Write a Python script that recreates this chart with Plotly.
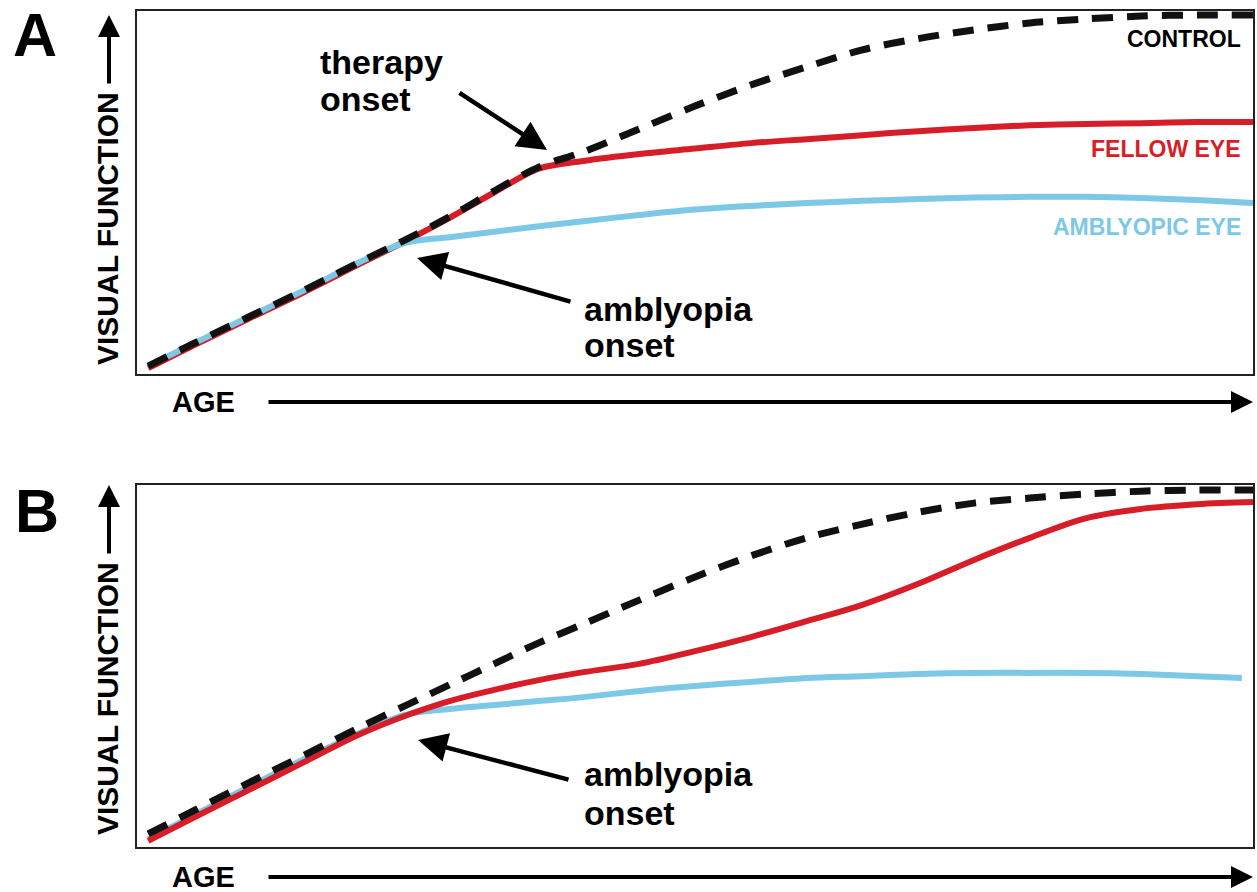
import plotly.graph_objects as go
from plotly.subplots import make_subplots

W, H = 1257, 892

# age grid (arbitrary units, 0-100)
age = [1, 5, 10, 15, 20, 24, 28, 32, 36, 40, 45, 50, 55, 60, 65, 70, 75, 80, 85, 90, 95, 100]
age_b_amb = [1, 5, 10, 15, 20, 24, 28, 32, 36, 40, 45, 50, 55, 60, 65, 70, 75, 80, 85, 90, 95, 99]

# panel A: visual function (arbitrary units, 0-100)
a_control = [2.2, 8.3, 15.7, 23.1, 30.9, 36.9, 43.3, 50.4, 57.0, 61.2, 67.5, 73.8, 79.6, 84.6,
             89.3, 92.4, 94.8, 96.7, 97.8, 98.6, 98.9, 98.9]
a_fellow = [1.6, 7.8, 15.2, 22.6, 30.4, 36.5, 43.0, 50.0, 56.6, 58.7, 60.6, 62.1, 63.6, 64.7,
            65.8, 66.9, 67.8, 68.5, 68.9, 69.1, 69.4, 69.4]
a_amblyopic = [2.2, 8.3, 15.7, 23.1, 30.9, 36.1, 37.7, 39.2, 40.7, 42.1, 43.8, 45.3, 46.3, 47.1,
               47.7, 48.2, 48.6, 48.8, 48.8, 48.5, 47.9, 47.1]

# panel B
b_control = [3.6, 9.9, 17.7, 25.4, 33.1, 39.0, 44.8, 50.6, 56.4, 61.6, 68.2, 74.6, 80.4, 85.4,
             89.2, 92.5, 95.0, 96.4, 97.5, 98.3, 98.6, 98.6]
b_fellow = [1.7, 8.0, 15.7, 23.5, 31.2, 36.2, 40.3, 43.4, 46.1, 48.3, 50.6, 54.1, 58.0, 62.4,
            66.9, 72.7, 79.3, 85.4, 90.8, 93.4, 94.7, 95.3]
b_amblyopic = [2.2, 8.6, 16.6, 24.3, 31.5, 36.5, 38.1, 39.2, 40.3, 41.4, 43.1, 44.5, 45.6, 46.7,
               47.2, 47.8, 48.1, 48.1, 48.1, 47.8, 47.2, 46.7]

RED = "#D71E28"
BLUE = "#7CC8E6"
FONT = "Liberation Sans, Arial, sans-serif"


def px_x(p):
    return p / W


def px_y(p):
    return 1 - p / H


fig = make_subplots(rows=2, cols=1)

fig.add_trace(go.Scatter(x=age, y=a_fellow, mode="lines",
                         line=dict(color=RED, width=6, shape="spline", smoothing=0.9)), row=1, col=1)
fig.add_trace(go.Scatter(x=age, y=a_amblyopic, mode="lines",
                         line=dict(color=BLUE, width=6, shape="spline", smoothing=0.9)), row=1, col=1)
fig.add_trace(go.Scatter(x=age, y=a_control, mode="lines",
                         line=dict(color="#111111", width=7, dash="21px,14px",
                                   shape="spline", smoothing=0.9)), row=1, col=1)

fig.add_trace(go.Scatter(x=age_b_amb, y=b_amblyopic, mode="lines",
                         line=dict(color=BLUE, width=6, shape="spline", smoothing=0.9)), row=2, col=1)
fig.add_trace(go.Scatter(x=age, y=b_fellow, mode="lines",
                         line=dict(color=RED, width=6, shape="spline", smoothing=1.0)), row=2, col=1)
fig.add_trace(go.Scatter(x=age, y=b_control, mode="lines",
                         line=dict(color="#111111", width=7, dash="21px,14px",
                                   shape="spline", smoothing=0.9)), row=2, col=1)

axis_style = dict(showticklabels=False, showgrid=False, zeroline=False, ticks="",
                  showline=True, mirror=True, linecolor="#222222", linewidth=2)
xdom = [px_x(137), px_x(1253)]
fig.update_xaxes(range=[0, 100], domain=xdom, **axis_style)
fig.update_yaxes(range=[0, 100], **axis_style)
fig.update_layout(
    yaxis=dict(domain=[px_y(374), px_y(11)]),
    yaxis2=dict(domain=[px_y(847), px_y(485)]),
)

ann = []


def text(x, y, s, size, color="black", xanchor="center", angle=0):
    ann.append(dict(x=px_x(x), y=px_y(y), xref="paper", yref="paper", text=s, showarrow=False,
                    xanchor=xanchor, yanchor="middle", textangle=angle,
                    font=dict(family=FONT, size=size, color=color)))


def arrow(hx, hy, tx, ty, width=4.5, size=1.1):
    ann.append(dict(x=px_x(hx), y=px_y(hy), xref="paper", yref="paper", text="",
                    showarrow=True, axref="pixel", ayref="pixel", ax=tx - hx, ay=ty - hy,
                    arrowhead=2, arrowsize=size, arrowwidth=width, arrowcolor="black",
                    standoff=0, startstandoff=0))


# panel letters
text(35, 35, "<b>A</b>", 61)
text(37, 511, "<b>B</b>", 61)

# axis labels with arrows
for top, mid, age_y in [(15, 229, 402), (485, 699, 877)]:
    text(107, mid, "<b>VISUAL FUNCTION</b>", 30, angle=-90)
    arrow(109, top, 109, top + 70, width=4)
    text(203, age_y, "<b>AGE</b>", 29)
    arrow(1253, age_y, 267, age_y, width=4)

# curve labels
text(1243, 39, "<b>CONTROL</b>", 23, xanchor="right")
text(1243, 149, "<b>FELLOW EYE</b>", 23, color=RED, xanchor="right")
text(1243, 227, "<b>AMBLYOPIC EYE</b>", 23, color=BLUE, xanchor="right")

# callouts
text(318, 62, "<b>therapy</b>", 34, xanchor="left")
text(318, 99, "<b>onset</b>", 34, xanchor="left")
arrow(547, 150, 458, 92, size=1.3)

text(582, 309, "<b>amblyopia</b>", 34, xanchor="left")
text(582, 345, "<b>onset</b>", 34, xanchor="left")
arrow(417, 258, 572, 302, size=1.3)

text(582, 774, "<b>amblyopia</b>", 34, xanchor="left")
text(582, 813, "<b>onset</b>", 34, xanchor="left")
arrow(418, 740, 570, 780, size=1.3)

fig.update_layout(
    width=W, height=H,
    margin=dict(l=0, r=0, t=0, b=0),
    paper_bgcolor="white", plot_bgcolor="white",
    showlegend=False,
    annotations=ann,
)

fig.write_html("out.html", config={"displayModeBar": False},
               post_script="document.body.style.margin='0';")
